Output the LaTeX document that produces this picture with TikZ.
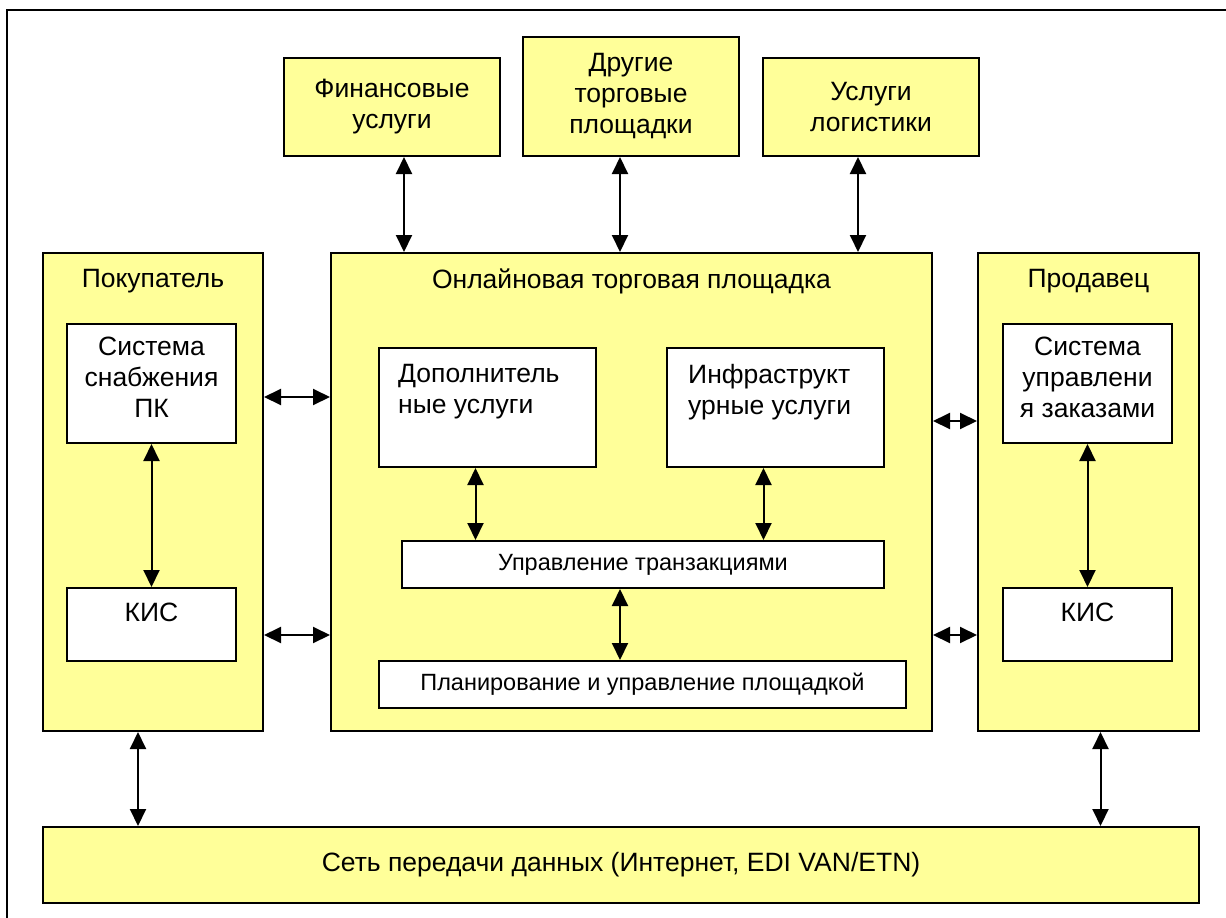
\documentclass[tikz,border=0pt]{standalone}
\usepackage{fontspec}
\setmainfont{Liberation Sans}
\usetikzlibrary{arrows.meta,positioning,calc}
\definecolor{paleyellow}{HTML}{FFFF99}

\begin{document}
\begin{tikzpicture}[
		x=1pt, y=-1pt,
		every node/.style={inner sep=0pt, align=center, font=\fontsize{26.5}{31}\selectfont},
		yellowbox/.style={draw, line width=2pt, fill=paleyellow, rectangle, anchor=north west},
		whitebox/.style={draw, line width=2pt, fill=white, rectangle, anchor=north west},
		smalltext/.style={font=\fontsize{23.5}{27}\selectfont},
		link/.style={line width=2pt, {Triangle[length=17pt,width=16pt]}-{Triangle[length=17pt,width=16pt]}}
		]
		\useasboundingbox (0,0) rectangle (1226,918);
		\draw[line width=2.5pt] (7,940) -- (7,10) -- (1240,10);
		
		\node[yellowbox, minimum width=216pt, minimum height=98pt] (fin) at (283,57) {Финансовые\\услуги};
		\node[yellowbox, minimum width=216pt, minimum height=119pt] (other) at (522,36) {Другие\\торговые\\площадки};
		\node[yellowbox, minimum width=216pt, minimum height=98pt] (logist) at (762,57) {Услуги\\логистики};
		
		\node[yellowbox, minimum width=220pt, minimum height=478pt] (buyer) at (42,252) {};
		\node[yellowbox, minimum width=601pt, minimum height=478pt] (market) at (330,252) {};
		\node[yellowbox, minimum width=221pt, minimum height=478pt] (seller) at (977,252) {};
		\node[yellowbox, minimum width=1156pt, minimum height=76pt] (net) at (42,826) {Сеть передачи данных (Интернет, EDI VAN/ETN)};
		
		\node[below=17pt of buyer.north] {Покупатель};
		\node[below=17pt of market.north] {Онлайновая торговая площадка};
		\node[below=17pt of seller.north] {Продавец};
		
		\node[whitebox, minimum width=169pt, minimum height=119pt] (supply) at (66,323) {};
		\node[whitebox, minimum width=169pt, minimum height=73pt] (kisb) at (66,587) {};
		\node[whitebox, minimum width=217pt, minimum height=119pt] (extra) at (378,347) {};
		\node[whitebox, minimum width=217pt, minimum height=119pt] (infra) at (666,347) {};
		\node[whitebox, minimum width=482pt, minimum height=47pt, smalltext] (trans) at (401,540) {Управление транзакциями};
		\node[whitebox, minimum width=527pt, minimum height=47pt, smalltext] (plan) at (378,660) {Планирование и управление площадкой};
		\node[whitebox, minimum width=169pt, minimum height=119pt] (orders) at (1002,323) {};
		\node[whitebox, minimum width=169pt, minimum height=73pt] (kiss) at (1002,587) {};
		
		\node[below=14pt of supply.north] {Система\\снабжения\\ПК};
		\node[below=16pt of kisb.north] {КИС};
		\node[anchor=north west, align=left] at ($(extra.north west)+(20,17)$) {Дополнитель\\ные услуги};
		\node[anchor=north west, align=left] at ($(infra.north west)+(22,17)$) {Инфраструкт\\урные услуги};
		\node[below=14pt of orders.north] {Система\\управлени\\я заказами};
		\node[below=16pt of kiss.north] {КИС};
		
		\draw[link] ([xshift=12pt]fin.south) -- ([xshift=12pt]fin.south |- market.north);
		\draw[link] ([xshift=-11pt]other.south) -- ([xshift=-11pt]other.south |- market.north);
		\draw[link] ([xshift=-13pt]logist.south) -- ([xshift=-13pt]logist.south |- market.north);
		\draw[link] ([yshift=95pt]buyer.east) -- ([yshift=95pt]market.west);
		\draw[link] ([yshift=-143pt]buyer.east) -- ([yshift=-143pt]market.west);
		\draw[link] ([yshift=71pt]market.east) -- ([yshift=71pt]seller.west);
		\draw[link] ([yshift=-143pt]market.east) -- ([yshift=-143pt]seller.west);
		\draw[link] (supply.south) -- (kisb.north);
		\draw[link] (orders.south) -- (kiss.north);
		\draw[link] ([xshift=-12pt]extra.south) -- ([xshift=-12pt]extra.south |- trans.north);
		\draw[link] ([xshift=-12pt]infra.south) -- ([xshift=-12pt]infra.south |- trans.north);
		\draw[link] ([xshift=-23pt]trans.south) -- ([xshift=-23pt]trans.south |- plan.north);
		\draw[link] ([xshift=-15pt]buyer.south) -- ([xshift=-15pt]buyer.south |- net.north);
		\draw[link] ([xshift=12pt]seller.south) -- ([xshift=12pt]seller.south |- net.north);
		\end{tikzpicture}
\end{document}
